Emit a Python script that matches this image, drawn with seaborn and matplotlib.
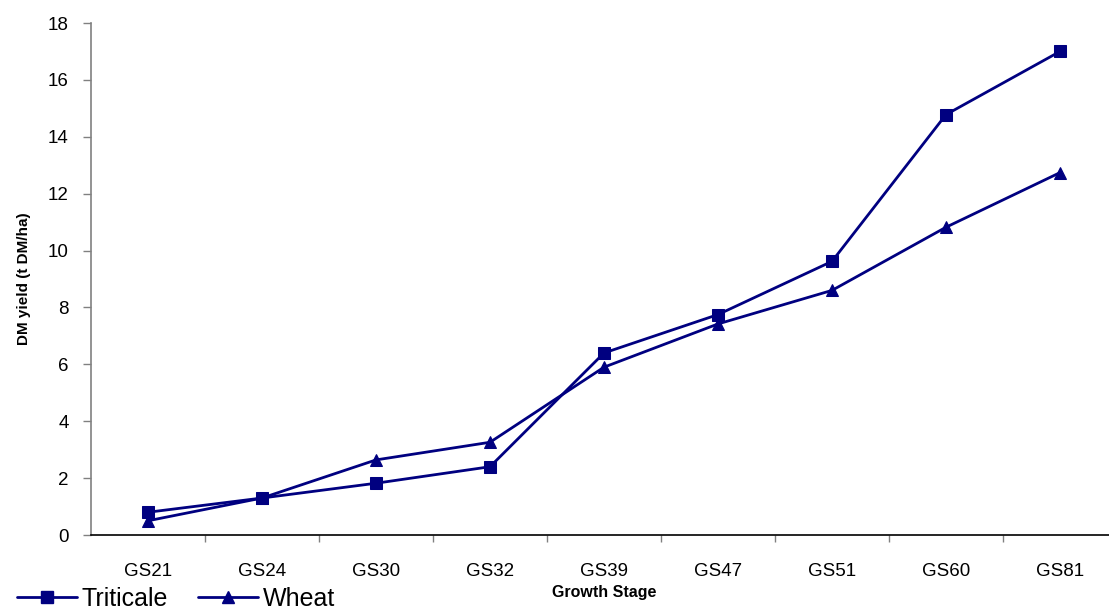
import numpy as np
import pandas as pd
import matplotlib
matplotlib.use("Agg")
import matplotlib.pyplot as plt
from matplotlib.ticker import FixedLocator, NullFormatter
from matplotlib.lines import Line2D
import seaborn as sns

stages = ["GS21", "GS24", "GS30", "GS32", "GS39", "GS47", "GS51", "GS60", "GS81"]
triticale = [0.8, 1.3, 1.82, 2.4, 6.4, 7.75, 9.62, 14.78, 17.0]
wheat = [0.5, 1.3, 2.64, 3.26, 5.9, 7.42, 8.6, 10.82, 12.74]
y_ticks = [0, 2, 4, 6, 8, 10, 12, 14, 16, 18]

df = pd.concat([
    pd.DataFrame({"Stage": stages, "Yield": triticale, "Crop": "Triticale"}),
    pd.DataFrame({"Stage": stages, "Yield": wheat, "Crop": "Wheat"}),
])

sns.set_theme(style="white")
plt.rcParams["font.family"] = ["Liberation Sans", "DejaVu Sans"]
plt.rcParams["text.color"] = "black"
plt.rcParams["axes.labelcolor"] = "black"
plt.rcParams["xtick.color"] = "black"
plt.rcParams["ytick.color"] = "black"

navy = "#000080"
fig = plt.figure(figsize=(11.09, 6.12), dpi=100)
ax = fig.add_axes([91 / 1109, 1 - 535 / 612, (1117 - 91) / 1109, (535 - 23) / 612])

sns.lineplot(data=df, x="Stage", y="Yield", hue="Crop", style="Crop",
             markers={"Triticale": "s", "Wheat": "^"}, dashes=False,
             palette={"Triticale": navy, "Wheat": navy},
             linewidth=2.0, markersize=8.5, markeredgecolor=navy,
             ax=ax, legend=False)

ax.set_xlim(-0.5, len(stages) - 0.5)
ax.set_ylim(0, 18)
ax.set_yticks(y_ticks)
ax.tick_params(axis="y", which="major", direction="out", length=6, width=1,
               color="#808080", labelcolor="black", labelsize=13.5, pad=10, left=True)
ax.set_xticks(range(len(stages)))
ax.set_xticklabels(stages)
ax.tick_params(axis="x", which="major", length=0, labelsize=13.5, labelcolor="black", pad=20)
ax.xaxis.set_minor_locator(FixedLocator(np.arange(0.5, len(stages) - 0.5, 1.0)))
ax.xaxis.set_minor_formatter(NullFormatter())
ax.tick_params(axis="x", which="minor", direction="out", length=5, width=1,
               color="#808080", bottom=True)

for side in ["top", "right"]:
    ax.spines[side].set_visible(False)
ax.spines["left"].set_color("#808080")
ax.spines["left"].set_linewidth(1.2)
ax.spines["bottom"].set_color("black")
ax.spines["bottom"].set_linewidth(1.2)
ax.grid(False)

ax.set_xlabel("Growth Stage", fontsize=11.5, fontweight="bold", labelpad=4)
ax.set_ylabel("DM yield (t DM/ha)", fontsize=11, fontweight="bold", labelpad=12)

handles = [
    Line2D([], [], color=navy, marker="s", linewidth=2.0, markersize=8.5),
    Line2D([], [], color=navy, marker="^", linewidth=2.0, markersize=8.5),
]
fig.legend(handles, ["Triticale", "Wheat"], loc="lower left",
           bbox_to_anchor=(-0.005, -0.035), ncol=2, frameon=False,
           fontsize=18, handlelength=2.4, handletextpad=0.2, columnspacing=1.2)

fig.savefig("out.png", dpi=100)
